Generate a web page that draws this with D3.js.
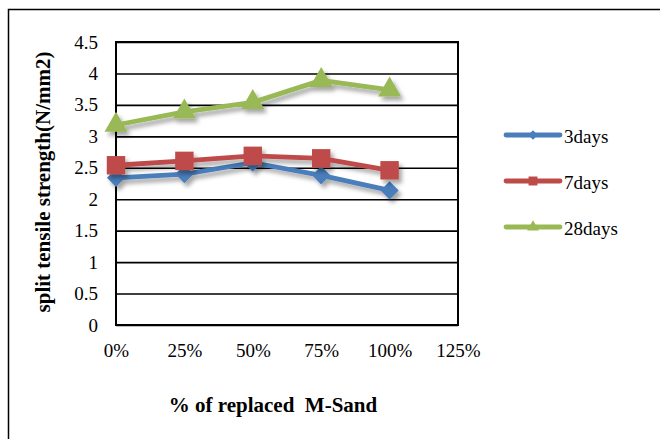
<!DOCTYPE html>
<html>
<head>
<meta charset="utf-8">
<script src="https://cdn.jsdelivr.net/npm/d3@7"></script>
<style>
  html, body { margin: 0; padding: 0; background: #fff; }
</style>
</head>
<body>
<svg id="chart" width="660" height="439"></svg>
<script>
// Replacement levels of M-Sand (fraction of fine aggregate)
const replacement = [0, 0.25, 0.5, 0.75, 1.0];
const xTicks = [0, 0.25, 0.5, 0.75, 1.0, 1.25];
const yTicks = [0, 0.5, 1, 1.5, 2, 2.5, 3, 3.5, 4, 4.5];

// Split tensile strength (N/mm2) per curing age
const days3 = [2.34, 2.40, 2.58, 2.38, 2.14];
const days7 = [2.54, 2.61, 2.69, 2.65, 2.46];
const days28 = [3.18, 3.39, 3.54, 3.89, 3.74];

const seriesNames = ["3days", "7days", "28days"];
const seriesColors = ["#4a7ebb", "#be4b48", "#98b954"];
const seriesValues = [days3, days7, days28];

const FONT = "'Liberation Serif'";

// marker shapes: diamond is a square turned 45 degrees
const markerTypes = [d3.symbolSquare, d3.symbolSquare, d3.symbolTriangle];
const markerRotate = [45, 0, 0];
const markerSizes = [165, 340, 230];
const legendMarkerSizes = [45, 80, 60];

const svg = d3.select("#chart");

// outer frame
svg.append("rect")
  .attr("x", 8.5).attr("y", 9.5)
  .attr("width", 700).attr("height", 500)
  .attr("fill", "none").attr("stroke", "#000").attr("stroke-width", 1.5);

const plot = { left: 116, right: 458, top: 42, bottom: 325 };

const x = d3.scaleLinear().domain([0, 1.25]).range([plot.left, plot.right]);
const y = d3.scaleLinear().domain([0, 4.5]).range([plot.bottom, plot.top]);

// soft drop shadow under the series
const defs = svg.append("defs");
const f = defs.append("filter").attr("id", "shadow")
  .attr("x", "-10%").attr("y", "-30%").attr("width", "130%").attr("height", "180%");
f.append("feDropShadow")
  .attr("dx", 3).attr("dy", 4).attr("stdDeviation", 2.2)
  .attr("flood-color", "#000").attr("flood-opacity", 0.35);

// horizontal gridlines with value labels
const yAxis = d3.axisLeft(y).tickValues(yTicks)
  .tickSize(-(plot.right - plot.left)).tickPadding(18)
  .tickFormat(d => d3.format("")(d));
const gy = svg.append("g").attr("transform", `translate(${plot.left},0)`).call(yAxis);
gy.select(".domain").remove();
gy.selectAll(".tick line").attr("stroke", "#000").attr("stroke-width", 1.6);
gy.selectAll(".tick text").attr("font-size", 19).attr("fill", "#000")
  .style("font-family", FONT);

const xAxis = d3.axisBottom(x).tickValues(xTicks).tickSize(0).tickPadding(19)
  .tickFormat(d => Math.round(d * 100) + "%");
const gx = svg.append("g").attr("transform", `translate(0,${plot.bottom})`).call(xAxis);
gx.select(".domain").remove();
gx.selectAll(".tick text").attr("font-size", 19).attr("fill", "#000")
  .style("font-family", FONT);

// plot-area border
svg.append("rect")
  .attr("x", plot.left).attr("y", plot.top)
  .attr("width", plot.right - plot.left).attr("height", plot.bottom - plot.top)
  .attr("fill", "none").attr("stroke", "#000").attr("stroke-width", 2);

// series
const line = d3.line().x((d, i) => x(replacement[i])).y(d => y(d));

seriesValues.forEach((vals, si) => {
  const g = svg.append("g").attr("filter", "url(#shadow)");
  g.append("path").datum(vals)
    .attr("d", line)
    .attr("fill", "none")
    .attr("stroke", seriesColors[si])
    .attr("stroke-width", 4.8)
    .attr("stroke-linejoin", "round")
    .attr("stroke-linecap", "round");
  g.selectAll("path.mark").data(vals).enter().append("path")
    .attr("class", "mark")
    .attr("transform", (d, i) => `translate(${x(replacement[i])},${y(d)}) rotate(${markerRotate[si]})`)
    .attr("d", d3.symbol().type(markerTypes[si]).size(markerSizes[si]))
    .attr("fill", seriesColors[si]);
});

// legend
const legendY = [135, 181, 227];
seriesNames.forEach((name, si) => {
  const g = svg.append("g").attr("transform", `translate(0,${legendY[si]})`);
  g.append("line")
    .attr("x1", 506).attr("x2", 560).attr("y1", 0).attr("y2", 0)
    .attr("stroke", seriesColors[si]).attr("stroke-width", 4.8)
    .attr("stroke-linecap", "round");
  g.append("path")
    .attr("transform", `translate(533,0) rotate(${markerRotate[si]})`)
    .attr("d", d3.symbol().type(markerTypes[si]).size(legendMarkerSizes[si]))
    .attr("fill", seriesColors[si]);
  g.append("text")
    .attr("x", 564).attr("y", 8)
    .attr("font-size", 19).attr("fill", "#000")
    .style("font-family", FONT)
    .text(name);
});

// axis titles
svg.append("text")
  .attr("transform", "translate(50,182) rotate(-90)")
  .attr("text-anchor", "middle")
  .attr("font-size", 21).attr("font-weight", "bold")
  .style("font-family", FONT)
  .text("split tensile strength(N/mm2)");

svg.append("text")
  .attr("x", 273).attr("y", 412)
  .attr("text-anchor", "middle")
  .attr("font-size", 21).attr("font-weight", "bold")
  .style("font-family", FONT)
  .style("white-space", "pre")
  .text("% of replaced  M-Sand");
</script>
</body>
</html>
